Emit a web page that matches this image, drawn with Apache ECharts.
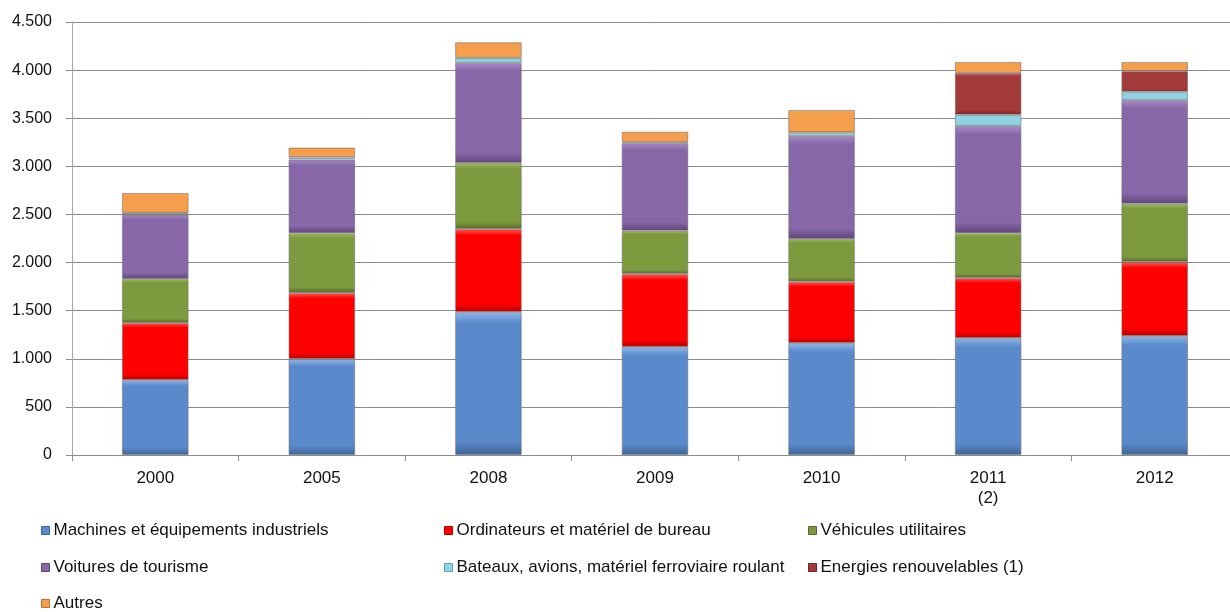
<!DOCTYPE html>
<html>
<head>
<meta charset="utf-8">
<style>
  html, body { margin: 0; padding: 0; background: #ffffff; }
  #chart { width: 1230px; height: 612px; }
</style>
<script src="https://cdn.jsdelivr.net/npm/echarts@6/dist/echarts.min.js"></script>
</head>
<body>
<div id="chart"></div>
<script>
// Années (axe des catégories)
const categories = ['2000', '2005', '2008', '2009', '2010', '2011\n(2)', '2012'];

// Valeurs par catégorie d'équipement
const machines    = [780, 998, 1487, 1123, 1164, 1216, 1237];
const ordinateurs = [592, 686, 863, 757, 636, 624, 768];
const vehicules   = [458, 621, 685, 450, 445, 465, 605];
const voitures    = [670, 765, 1040, 910, 1070, 1115, 1080];
const bateaux     = [15, 25, 50, 10, 35, 115, 85];
const energies    = [null, null, null, null, null, 435, 215];
const autres      = [208, 100, 165, 110, 235, 115, 95];

const seriesNames = [
  'Machines et équipements industriels',
  'Ordinateurs et matériel de bureau',
  'Véhicules utilitaires',
  'Voitures de tourisme',
  'Bateaux, avions, matériel ferroviaire roulant',
  'Energies renouvelables (1)',
  'Autres'
];
const seriesData = [machines, ordinateurs, vehicules, voitures, bateaux, energies, autres];

// Couleurs de base et teintes claire / sombre pour l'effet biseauté
const palette = [
  { base: '#5a8acb', light: '#8fb6e8', dark: '#3f6495' },
  { base: '#ff0000', light: '#ff5a5a', dark: '#b80000' },
  { base: '#7e9a3f', light: '#a3bf63', dark: '#56692a' },
  { base: '#8767a8', light: '#a98bc9', dark: '#5d4578' },
  { base: '#8fd3e2', light: '#c0ecf5', dark: '#5aa5b6' },
  { base: '#a33a3a', light: '#c86666', dark: '#722424' },
  { base: '#f59f4c', light: '#fbc385', dark: '#c07330' }
];

// Position de chaque entrée de légende (trois colonnes)
const legendSlots = [
  { left: 41,  top: 522 },
  { left: 444, top: 522 },
  { left: 808, top: 522 },
  { left: 41,  top: 559 },
  { left: 444, top: 559 },
  { left: 808, top: 559 },
  { left: 41,  top: 595 }
];

const FONT = 'Liberation Sans, Arial, sans-serif';

function bevelFill(c) {
  return new echarts.graphic.LinearGradient(0, 0, 0, 1, [
    { offset: 0, color: c.light },
    { offset: 0.08, color: c.base },
    { offset: 0.9, color: c.base },
    { offset: 1, color: c.dark }
  ]);
}

function thousands(v) {
  return String(v).replace(/\B(?=(\d{3})+(?!\d))/g, '.');
}

const series = seriesNames.map((name, i) => ({
  name: name,
  type: 'bar',
  stack: 'total',
  barWidth: '40%',
  data: seriesData[i],
  itemStyle: {
    color: bevelFill(palette[i]),
    borderColor: 'rgba(110,110,110,0.55)',
    borderWidth: 1
  },
  emphasis: { disabled: true }
}));

const legends = seriesNames.map((name, i) => ({
  data: [{ name: name, itemStyle: { color: palette[i].base, borderColor: palette[i].dark, borderWidth: 1 } }],
  left: legendSlots[i].left,
  top: legendSlots[i].top,
  icon: 'rect',
  itemWidth: 8,
  itemHeight: 8,
  itemGap: 0,
  padding: 0,
  selectedMode: false,
  textStyle: {
    fontFamily: FONT,
    fontSize: 17,
    color: '#111111',
    padding: [0, 0, 0, -1]
  }
}));

const chart = echarts.init(document.getElementById('chart'), null, { renderer: 'canvas' });
chart.setOption({
  animation: false,
  backgroundColor: '#ffffff',
  grid: { left: 72, top: 22, bottom: 157, width: 1166, containLabel: false, outerBoundsMode: 'none' },
  legend: legends,
  xAxis: {
    type: 'category',
    data: categories,
    axisLine: { lineStyle: { color: '#8c8c8c', width: 1 } },
    axisTick: { show: true, length: 6, alignWithLabel: false, lineStyle: { color: '#8c8c8c' } },
    axisLabel: {
      color: '#111111',
      fontFamily: FONT,
      fontSize: 17,
      margin: 13,
      lineHeight: 20,
      interval: 0
    }
  },
  yAxis: {
    type: 'value',
    min: 0,
    max: 4500,
    interval: 500,
    axisLine: { show: true, lineStyle: { color: '#a6a6a6', width: 1 } },
    axisTick: { show: true, length: 6, lineStyle: { color: '#8c8c8c' } },
    splitLine: { lineStyle: { color: '#8c8c8c', width: 1 } },
    axisLabel: {
      color: '#111111',
      fontFamily: FONT,
      fontSize: 16,
      margin: 20,
      formatter: thousands
    }
  },
  series: series
});
</script>
</body>
</html>
